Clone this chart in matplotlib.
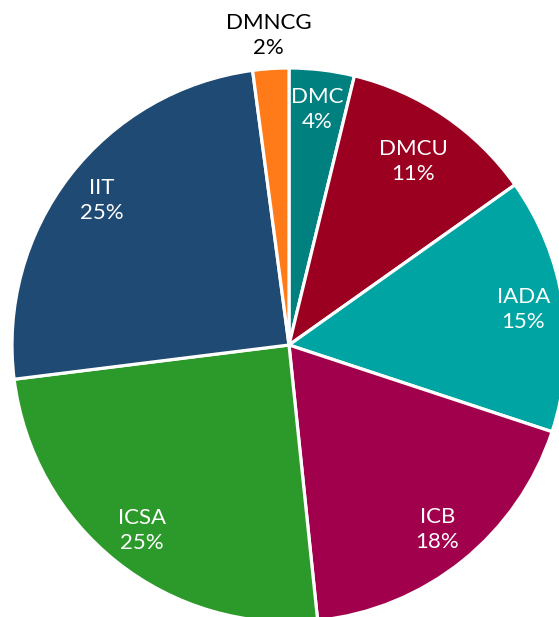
import matplotlib
matplotlib.use("Agg")
import matplotlib.pyplot as plt
import numpy as np

categories = ["DMC", "DMCU", "IADA", "ICB", "ICSA", "IIT", "DMNCG"]
values = [3.8, 11.4, 14.9, 18.3, 24.7, 24.9, 2.1]
colors = ["#00807f", "#9b0020", "#00a4a2", "#a0004c", "#2c9a2a", "#1f4a73", "#ff7b1a"]

plt.rcParams['font.family'] = ['Lato', 'DejaVu Sans']

W, H = 559, 617
cx, cy, R = 289, 345, 277
fig = plt.figure(figsize=(W / 100, H / 100), dpi=100)
ax = fig.add_axes([0, 0, 1, 1])

ax.pie(values, colors=colors, startangle=90, counterclock=False,
       radius=1, center=(0, 0),
       wedgeprops=dict(edgecolor="white", linewidth=2.3))

label_r = {"DMNCG": 1.12, "DMCU": 0.80}
total = sum(values)
cum = 0
for cat, v in zip(categories, values):
    mid = 90 - (cum + v / 2) / total * 360
    cum += v
    pct = f"{round(v / total * 100):.0f}%"
    r = label_r.get(cat, 0.855)
    col = "black" if cat == "DMNCG" else "white"
    x = r * np.cos(np.radians(mid))
    y = r * np.sin(np.radians(mid))
    ax.text(x, y, f"{cat}\n{pct}", ha="center", va="center", color=col,
            fontsize=16, linespacing=1.3)

ax.set_xlim(-cx / R, (W - cx) / R)
ax.set_ylim(-(H - cy) / R, cy / R)
ax.set_aspect("auto")
ax.axis("off")
fig.savefig("out.png", dpi=100)
